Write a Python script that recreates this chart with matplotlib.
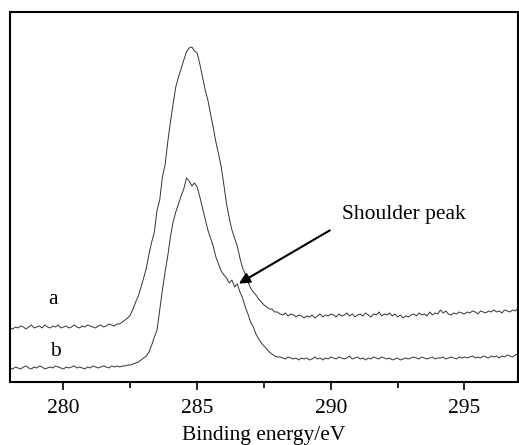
import numpy as np
import matplotlib.pyplot as plt

plt.rcParams['font.family'] = ['Liberation Serif', 'DejaVu Serif']

# 结合能, 0.1 eV 步长
energy = np.round(np.arange(278.0, 297.05, 0.1), 1)

# 曲线 a
a_left = [54, 53, 55, 54, 56, 55, 53, 55, 57, 54, 55, 56, 54, 57, 55, 54, 56, 55, 57, 54,
          55, 56, 54, 55, 57, 55, 54, 56, 55, 57, 56, 55, 54, 56, 57, 55, 56, 58, 57, 56]
a_peak = [58, 58, 60, 62, 64, 67, 73, 80, 86, 95,
          104, 114, 128, 140, 150, 172, 182, 205, 217, 240,
          260, 278, 295, 305, 313, 322, 330, 334, 335, 331,
          329, 318, 305, 292, 282, 268, 255, 240, 228, 215,
          197, 178, 164, 152, 144, 136, 124, 114, 108, 100,
          94, 90, 87, 83, 80, 77, 75, 73, 73, 70,
          70]
a_right = [68, 67, 69, 66, 68, 67, 65, 67, 66, 64,
           66, 65, 67, 64, 66, 68, 65, 67, 66, 68,
           67, 65, 68, 66, 67, 69, 66, 68, 65, 67,
           68, 66, 69, 67, 65, 68, 67, 70, 66, 68,
           67, 69, 66, 68, 65, 67, 64, 66, 65, 67,
           68, 66, 69, 67, 68, 66, 70, 67, 69, 68,
           72, 69, 71, 68, 67, 69, 68, 70, 69, 68,
           70, 69, 71, 70, 68, 71, 70, 69, 71, 70,
           72, 70, 71, 69, 72, 71, 70, 72, 71, 74]

# 曲线 b
b_left = [14, 13, 15, 14, 13, 15, 16, 14, 13, 15, 14, 16, 15, 13, 14, 15, 14, 16, 15, 14,
          13, 15, 14, 15, 16, 14, 15, 14, 13, 15, 14, 16, 15, 14, 15, 16, 15, 14, 16, 15,
          16, 15, 16]
b_peak = [16, 17, 17, 18, 19, 20, 22,
          24, 26, 30, 37, 45, 52, 72, 92, 110, 126,
          145, 160, 170, 178, 186, 193, 204, 201, 196, 199,
          195, 185, 174, 163, 152, 144, 136, 125, 118, 111,
          107, 104, 99, 102, 95, 98, 90, 84, 75, 68,
          60, 55, 48, 43, 39, 36, 33, 30, 28, 26,
          25]
b_right = [25, 24, 23, 25, 24, 23, 24, 22, 24, 23,
           24, 22, 23, 25, 23, 24, 22, 24, 23, 25,
           24, 23, 25, 24, 23, 24, 26, 23, 24, 25,
           23, 24, 22, 24, 23, 25, 24, 23, 25, 24,
           23, 24, 22, 23, 24, 22, 23, 24, 23, 24,
           25, 24, 23, 25, 24, 23, 24, 25, 23, 24,
           24, 25, 23, 24, 25, 24, 23, 25, 24, 25,
           24, 25, 26, 24, 25, 24, 26, 25, 24, 26,
           25, 26, 24, 26, 25, 27, 26, 25, 27, 28]

curve_a = np.array(a_left + a_peak + a_right)
curve_b = np.array(b_left + b_peak + b_right)

fig = plt.figure(figsize=(5.19, 4.45), dpi=100)
ax = fig.add_axes([0.0193, 0.1416, 0.9787, 0.8315])

ax.plot(energy, curve_a, color='#333333', lw=0.7)
ax.plot(energy, curve_b, color='#333333', lw=0.7)

ax.set_xlim(278, 297)
ax.set_ylim(0, 370)
ax.set_yticks([])
ax.set_xticks([280, 285, 290, 295])
ax.set_xticks([282.5, 287.5, 292.5], minor=True)
ax.tick_params(axis='x', which='major', direction='out', length=5.5, width=1.2, labelsize=15.5, pad=7)
ax.tick_params(axis='x', which='minor', direction='out', length=4, width=1.2)
for s in ax.spines.values():
    s.set_linewidth(1.5)

ax.set_xlabel('Binding energy/eV', fontsize=15.5, labelpad=5.5)

ax.text(279.6, 82, 'a', fontsize=15.5, ha='center', va='center')
ax.text(279.7, 30, 'b', fontsize=15.5, ha='center', va='center')

ax.annotate('', xy=(286.47, 97), xytext=(290.05, 153),
            arrowprops=dict(arrowstyle='-|>', color='k', lw=1.5, mutation_scale=16))
ax.text(290.4, 167, 'Shoulder peak', fontsize=15.5, ha='left', va='center')

fig.savefig('out.png', dpi=100)
